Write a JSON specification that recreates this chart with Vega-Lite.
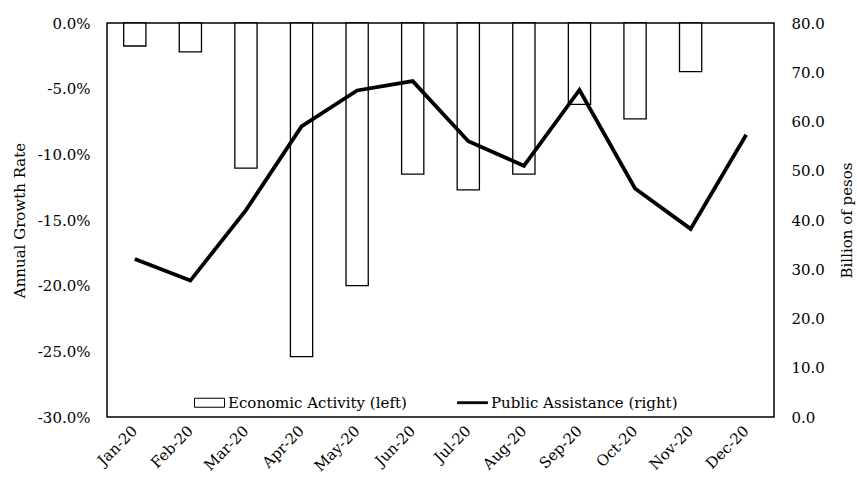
{
  "$schema": "https://vega.github.io/schema/vega-lite/v6.json",
  "autosize": {"type": "none"},
  "width": 667,
  "height": 394,
  "padding": {"left": 107, "top": 23, "right": 83, "bottom": 65},
  "background": "white",
  "config": {
    "font": "DejaVu Serif",
    "view": {"stroke": "black", "strokeWidth": 1.5},
    "axis": {
      "labelFont": "DejaVu Serif",
      "labelFontSize": 15,
      "labelColor": "black",
      "titleFont": "DejaVu Serif",
      "titleFontSize": 15,
      "titleFontWeight": "normal",
      "titleColor": "black",
      "ticks": false,
      "domain": false,
      "grid": false
    },
    "legend": {
      "labelFont": "DejaVu Serif",
      "labelFontSize": 15,
      "labelColor": "black",
      "labelLimit": 400
    }
  },
  "data": {
    "values": [
      {"month": "Jan-20", "growth": -1.75, "assistance": 32.1},
      {"month": "Feb-20", "growth": -2.2, "assistance": 27.7},
      {"month": "Mar-20", "growth": -11.05, "assistance": 42.0},
      {"month": "Apr-20", "growth": -25.4, "assistance": 59.0},
      {"month": "May-20", "growth": -20.0, "assistance": 66.3},
      {"month": "Jun-20", "growth": -11.5, "assistance": 68.2},
      {"month": "Jul-20", "growth": -12.7, "assistance": 56.0},
      {"month": "Aug-20", "growth": -11.5, "assistance": 51.0},
      {"month": "Sep-20", "growth": -6.2, "assistance": 66.4},
      {"month": "Oct-20", "growth": -7.3, "assistance": 46.4},
      {"month": "Nov-20", "growth": -3.7, "assistance": 38.2},
      {"month": "Dec-20", "growth": null, "assistance": 57.3}
    ]
  },
  "encoding": {
    "x": {
      "field": "month",
      "type": "ordinal",
      "sort": null,
      "scale": {"paddingInner": 0.6, "paddingOuter": 0.3},
      "axis": {
        "title": null,
        "labelAngle": -45,
        "labelAlign": "right",
        "labelBaseline": "middle",
        "labelPadding": 11
      }
    }
  },
  "layer": [
    {
      "layer": [
        {
          "mark": {"type": "bar", "fill": "white", "stroke": "black", "strokeWidth": 1.3},
          "encoding": {
            "y": {
              "field": "growth",
              "type": "quantitative",
              "scale": {"domain": [-30, 0], "nice": false, "zero": true},
              "axis": {
                "title": "Annual Growth Rate",
                "values": [-30, -25, -20, -15, -10, -5, 0],
                "labelExpr": "(datum.value < 0 ? '-' : '') + format(abs(datum.value), '.1f') + '%'",
                "labelPadding": 17,
                "titlePadding": 10
              }
            }
          }
        },
        {
          "transform": [{"filter": "false"}],
          "mark": {"type": "point", "filled": true, "strokeWidth": 1, "opacity": 1},
          "encoding": {
            "y": {"field": "growth", "type": "quantitative"},
            "shape": {
              "datum": "Economic Activity (left)",
              "scale": {
                "domain": ["Economic Activity (left)", "Public Assistance (right)"],
                "range": ["M-1,-0.3H1V0.3H-1Z", "M-1,-0.06H1V0.06H-1Z"]
              },
              "legend": {
                "title": null,
                "orient": "none",
                "direction": "horizontal",
                "legendX": 87,
                "legendY": 364,
                "symbolSize": 900,
                "symbolStrokeWidth": 1,
                "symbolOpacity": 1,
                "labelOffset": 3,
                "columnPadding": 48
              }
            },
            "fill": {
              "datum": "Economic Activity (left)",
              "scale": {
                "domain": ["Economic Activity (left)", "Public Assistance (right)"],
                "range": ["white", "black"]
              }
            },
            "stroke": {
              "datum": "Economic Activity (left)",
              "scale": {
                "domain": ["Economic Activity (left)", "Public Assistance (right)"],
                "range": ["black", "black"]
              }
            }
          }
        }
      ]
    },
    {
      "mark": {"type": "line", "color": "black", "strokeWidth": 3.8},
      "encoding": {
        "y": {
          "field": "assistance",
          "type": "quantitative",
          "scale": {"domain": [0, 80], "nice": false},
          "axis": {
            "orient": "right",
            "title": "Billion of pesos",
            "titleAngle": -90,
            "values": [0, 10, 20, 30, 40, 50, 60, 70, 80],
            "format": ".1f",
            "labelPadding": 17,
            "titlePadding": 30
          }
        }
      }
    }
  ],
  "resolve": {"scale": {"y": "independent"}}
}
